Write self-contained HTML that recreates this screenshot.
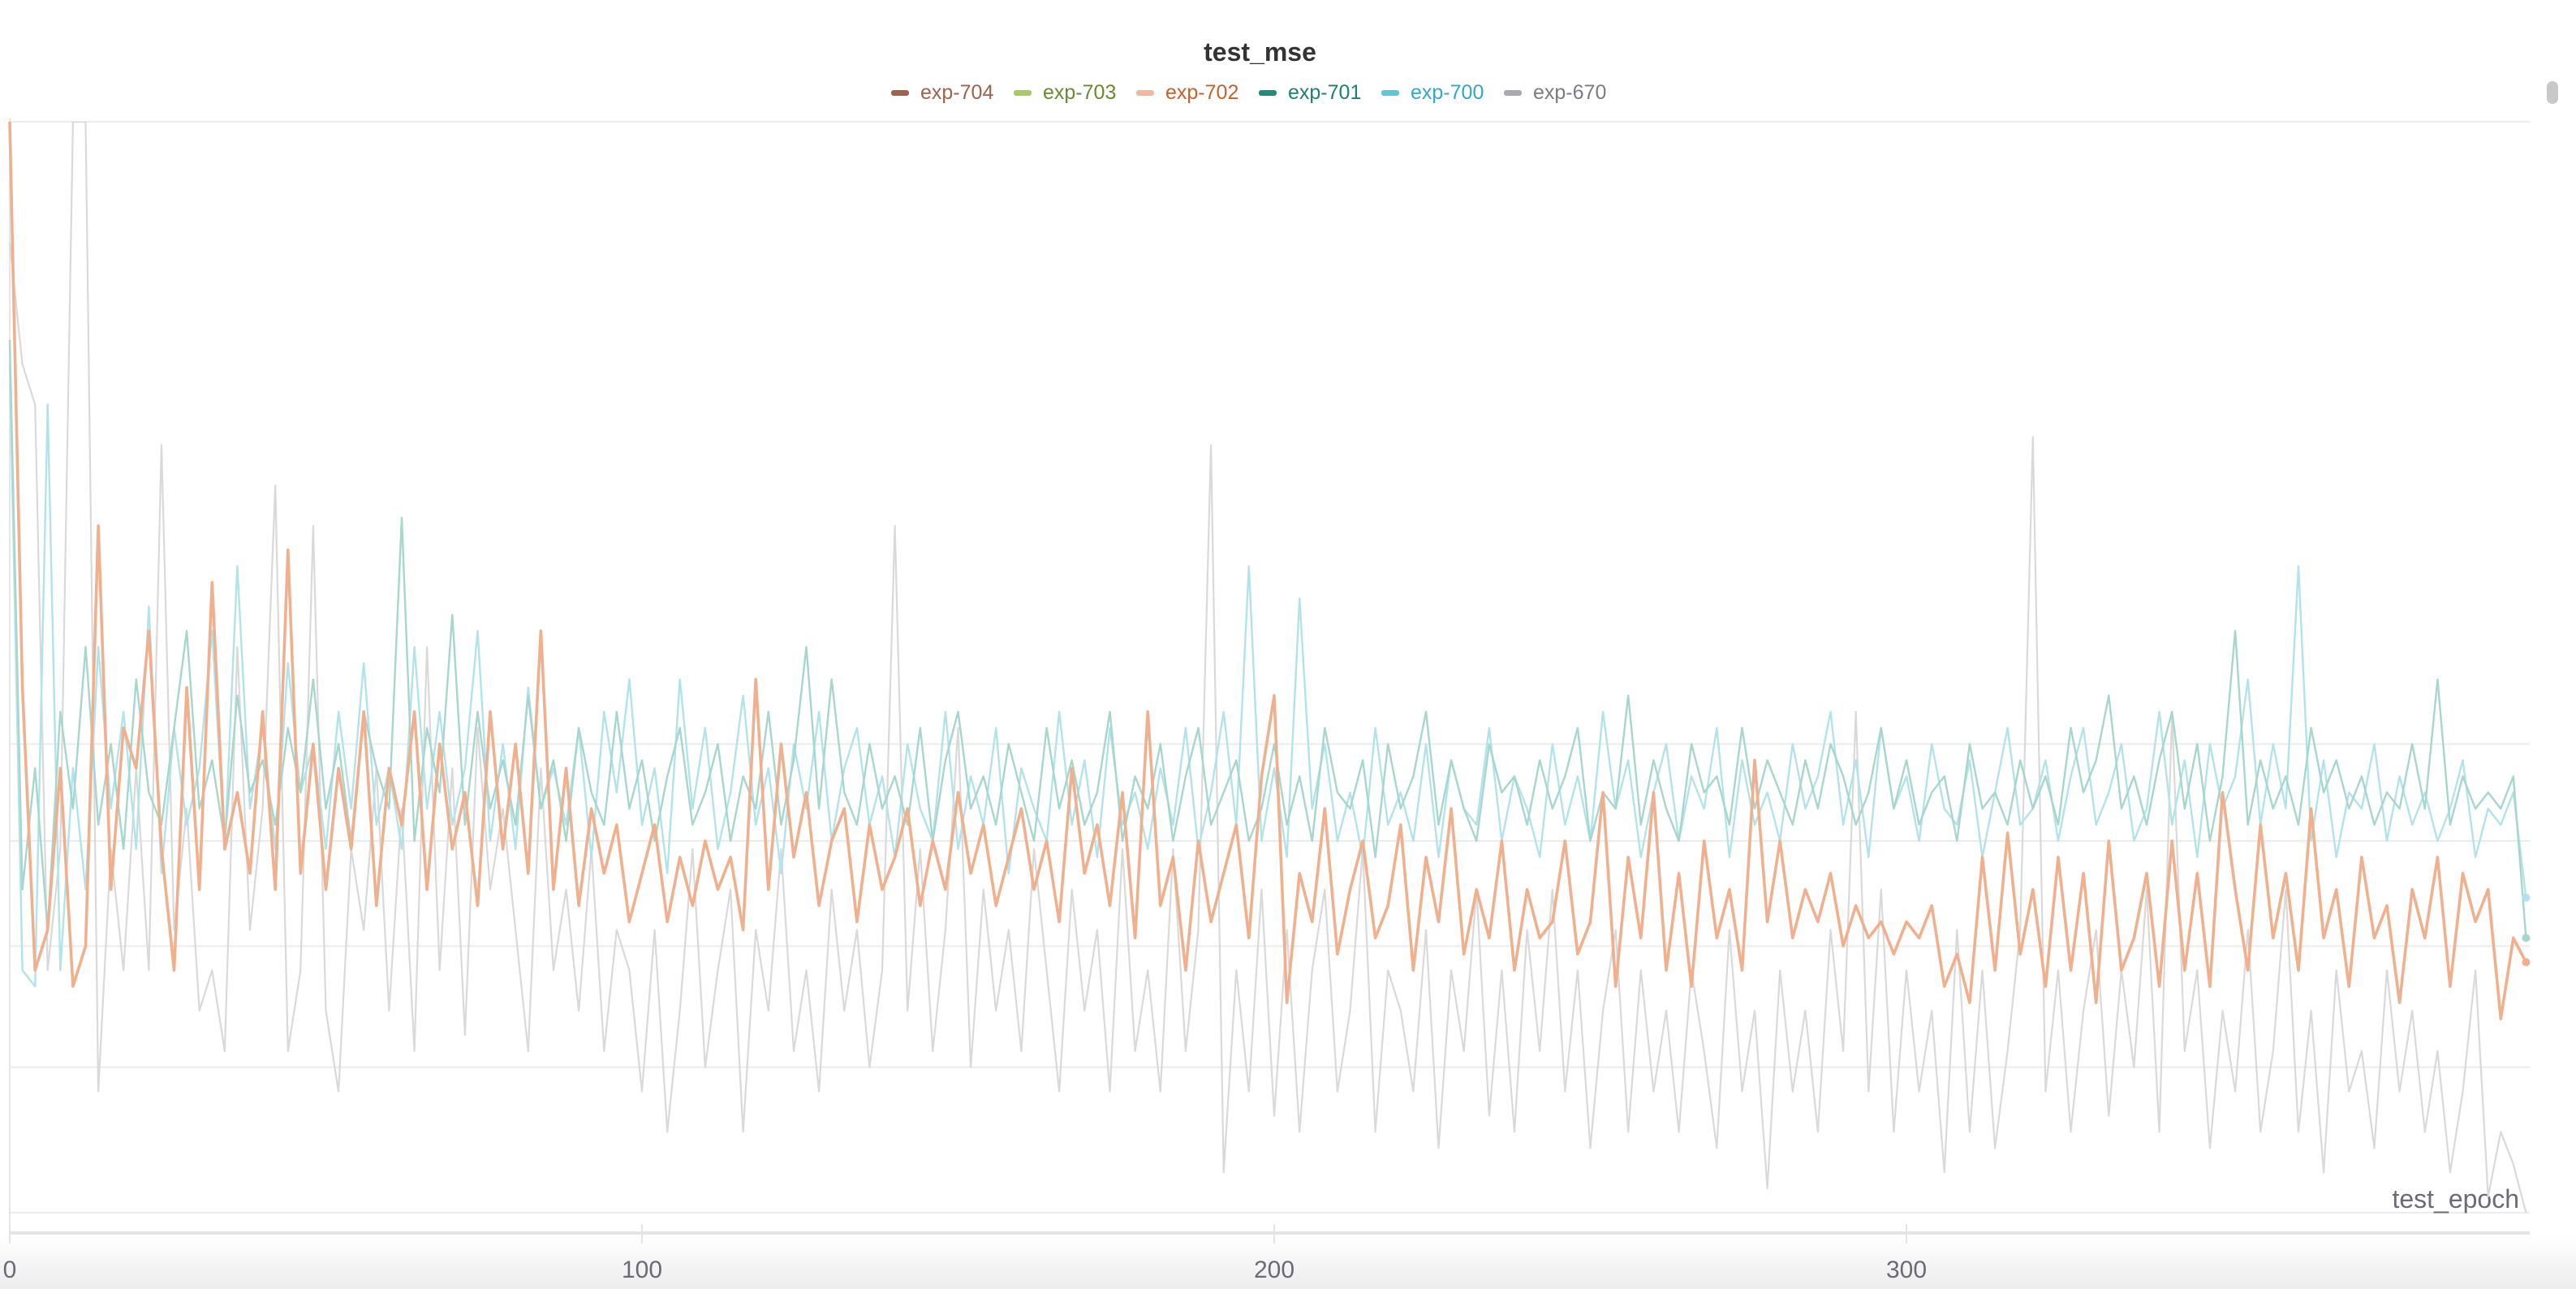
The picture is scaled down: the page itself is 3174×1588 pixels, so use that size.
<!DOCTYPE html>
<html><head><meta charset="utf-8">
<style>
html,body{margin:0;padding:0;background:#fff;}
body{width:3174px;height:1588px;position:relative;overflow:hidden;font-family:"Liberation Sans",sans-serif;}
#title{position:absolute;top:46px;left:0;width:3105px;text-align:center;font-size:32px;font-weight:bold;color:#333;}
#legend{position:absolute;top:100px;left:1098px;display:flex;font-size:25px;}
.le{display:flex;align-items:center;width:151px;}
.sw{width:22px;height:7px;border-radius:3px;margin-right:14px;}
#bottombg{position:absolute;left:0;top:1520px;width:3174px;height:68px;background:linear-gradient(#fff,#ededed);}
#scroll{position:absolute;left:3138px;top:100px;width:14px;height:28px;border-radius:7px;background:#c8c8c8;}
</style></head><body>
<div id="bottombg"></div>
<div id="title">test_mse</div>
<div id="legend">
 <div class="le"><div class="sw" style="background:#a0604a"></div><span style="color:#a0624a">exp-704</span></div>
 <div class="le"><div class="sw" style="background:#a8cc60"></div><span style="color:#6a8a30">exp-703</span></div>
 <div class="le"><div class="sw" style="background:#f3b89a"></div><span style="color:#c8602a">exp-702</span></div>
 <div class="le"><div class="sw" style="background:#1e8c7c"></div><span style="color:#1e8070">exp-701</span></div>
 <div class="le"><div class="sw" style="background:#5ac8dc"></div><span style="color:#30a8d0">exp-700</span></div>
 <div class="le"><div class="sw" style="background:#a8aab0"></div><span style="color:#7a7c84">exp-670</span></div>
</div>
<div id="scroll"></div>
<svg id="chart" width="3174" height="1588" style="position:absolute;left:0;top:0"></svg>
<script>
const xTicks=[0,100,200,300];
const gridValues=[1.35,0.58,0.46,0.33,0.18,0.0];
const epochStep=2;
const exp702=[1.35,0.65,0.30,0.35,0.55,0.28,0.33,0.85,0.40,0.60,
0.55,0.72,0.45,0.30,0.65,0.40,0.78,0.45,0.52,0.42,
0.62,0.40,0.82,0.42,0.58,0.40,0.55,0.45,0.62,0.38,
0.55,0.48,0.62,0.40,0.58,0.45,0.52,0.38,0.62,0.45,
0.58,0.42,0.72,0.40,0.55,0.38,0.50,0.42,0.48,0.36,
0.42,0.48,0.36,0.44,0.38,0.46,0.40,0.44,0.35,0.66,
0.40,0.58,0.44,0.52,0.38,0.46,0.50,0.36,0.48,0.40,
0.44,0.50,0.38,0.46,0.40,0.52,0.42,0.48,0.38,0.44,
0.50,0.40,0.46,0.36,0.55,0.42,0.48,0.38,0.52,0.34,
0.62,0.38,0.44,0.30,0.46,0.36,0.42,0.48,0.34,0.54,
0.64,0.26,0.42,0.36,0.50,0.32,0.40,0.46,0.34,0.38,
0.48,0.30,0.44,0.36,0.50,0.32,0.40,0.34,0.46,0.30,
0.40,0.34,0.36,0.46,0.32,0.36,0.52,0.28,0.44,0.34,
0.52,0.30,0.42,0.28,0.46,0.34,0.40,0.30,0.56,0.36,
0.46,0.34,0.40,0.36,0.42,0.33,0.38,0.34,0.36,0.32,
0.36,0.34,0.38,0.28,0.32,0.26,0.44,0.30,0.47,0.32,
0.40,0.28,0.44,0.30,0.42,0.26,0.46,0.30,0.34,0.42,
0.28,0.46,0.30,0.42,0.28,0.52,0.40,0.30,0.48,0.34,
0.42,0.30,0.50,0.34,0.40,0.28,0.44,0.34,0.38,0.26,
0.40,0.34,0.44,0.28,0.42,0.36,0.40,0.24,0.34,0.31];
const exp700=[1.05,0.30,0.28,1.00,0.30,0.55,0.40,0.70,0.50,0.62,
0.45,0.75,0.42,0.60,0.48,0.55,0.72,0.45,0.80,0.50,
0.60,0.45,0.68,0.52,0.58,0.45,0.62,0.50,0.68,0.48,
0.55,0.45,0.70,0.50,0.62,0.48,0.55,0.72,0.46,0.58,
0.45,0.65,0.50,0.55,0.48,0.60,0.44,0.62,0.52,0.66,
0.48,0.55,0.42,0.66,0.50,0.60,0.45,0.52,0.64,0.48,
0.55,0.42,0.58,0.50,0.62,0.46,0.55,0.60,0.48,0.54,
0.44,0.58,0.50,0.46,0.62,0.45,0.54,0.48,0.60,0.42,
0.55,0.50,0.46,0.62,0.48,0.56,0.44,0.60,0.48,0.52,
0.45,0.55,0.48,0.60,0.45,0.52,0.62,0.48,0.80,0.46,
0.55,0.44,0.76,0.50,0.58,0.46,0.52,0.44,0.60,0.48,
0.52,0.46,0.58,0.44,0.56,0.50,0.48,0.60,0.46,0.54,
0.50,0.44,0.58,0.48,0.54,0.46,0.62,0.50,0.56,0.44,
0.52,0.58,0.46,0.54,0.50,0.60,0.44,0.56,0.48,0.52,
0.46,0.58,0.50,0.54,0.62,0.48,0.56,0.44,0.60,0.50,
0.54,0.46,0.58,0.50,0.48,0.56,0.44,0.52,0.60,0.48,
0.50,0.56,0.46,0.54,0.60,0.48,0.52,0.58,0.46,0.50,
0.62,0.48,0.56,0.44,0.58,0.50,0.54,0.66,0.48,0.58,
0.50,0.80,0.46,0.56,0.44,0.52,0.50,0.58,0.46,0.54,
0.48,0.52,0.46,0.50,0.56,0.44,0.50,0.48,0.52,0.39];
const exp701=[1.08,0.40,0.55,0.35,0.62,0.50,0.70,0.48,0.58,0.45,
0.66,0.52,0.48,0.60,0.72,0.50,0.56,0.46,0.64,0.52,
0.56,0.48,0.60,0.52,0.66,0.50,0.58,0.46,0.62,0.55,
0.50,0.86,0.46,0.60,0.52,0.74,0.48,0.62,0.50,0.56,
0.48,0.64,0.50,0.56,0.46,0.60,0.52,0.48,0.62,0.50,
0.56,0.46,0.54,0.60,0.48,0.52,0.58,0.46,0.54,0.50,
0.62,0.48,0.56,0.70,0.50,0.66,0.52,0.48,0.58,0.50,
0.54,0.48,0.60,0.46,0.56,0.62,0.50,0.54,0.48,0.58,
0.52,0.46,0.60,0.50,0.56,0.48,0.52,0.62,0.46,0.54,
0.50,0.58,0.46,0.54,0.60,0.48,0.52,0.56,0.46,0.50,
0.58,0.48,0.54,0.46,0.60,0.52,0.50,0.56,0.44,0.58,
0.50,0.54,0.62,0.48,0.56,0.50,0.46,0.58,0.52,0.54,
0.48,0.56,0.50,0.54,0.60,0.46,0.52,0.50,0.64,0.48,
0.56,0.50,0.46,0.58,0.52,0.54,0.48,0.60,0.50,0.56,
0.52,0.48,0.56,0.50,0.58,0.54,0.48,0.52,0.60,0.50,
0.56,0.48,0.52,0.54,0.46,0.58,0.50,0.52,0.48,0.56,
0.50,0.54,0.48,0.60,0.52,0.56,0.64,0.50,0.54,0.48,
0.56,0.62,0.50,0.58,0.46,0.54,0.72,0.48,0.56,0.50,
0.54,0.48,0.60,0.52,0.56,0.50,0.54,0.48,0.52,0.50,
0.58,0.50,0.66,0.48,0.54,0.50,0.52,0.50,0.54,0.34];
const exp670=[1.20,1.05,1.00,0.30,0.45,1.35,1.35,0.15,0.45,0.30,
0.55,0.30,0.95,0.35,0.50,0.25,0.30,0.20,0.70,0.35,
0.50,0.90,0.20,0.30,0.85,0.25,0.15,0.45,0.35,0.55,
0.25,0.50,0.20,0.70,0.30,0.55,0.22,0.60,0.40,0.50,
0.35,0.20,0.55,0.30,0.40,0.25,0.45,0.20,0.35,0.30,
0.15,0.35,0.10,0.25,0.45,0.18,0.30,0.40,0.10,0.35,
0.25,0.45,0.20,0.30,0.15,0.40,0.25,0.35,0.18,0.30,
0.85,0.25,0.45,0.20,0.35,0.60,0.18,0.40,0.25,0.35,
0.20,0.45,0.30,0.15,0.40,0.25,0.35,0.15,0.45,0.20,
0.30,0.15,0.45,0.20,0.35,0.95,0.05,0.30,0.15,0.40,
0.12,0.35,0.10,0.30,0.40,0.15,0.25,0.45,0.10,0.30,
0.25,0.15,0.35,0.08,0.30,0.20,0.40,0.12,0.30,0.10,
0.35,0.20,0.40,0.15,0.30,0.08,0.25,0.35,0.10,0.30,
0.15,0.25,0.10,0.30,0.20,0.08,0.35,0.15,0.25,0.03,
0.30,0.15,0.25,0.10,0.35,0.20,0.62,0.15,0.40,0.10,
0.30,0.15,0.25,0.05,0.35,0.10,0.30,0.08,0.20,0.35,
0.96,0.15,0.30,0.10,0.25,0.35,0.12,0.30,0.18,0.40,
0.10,0.62,0.20,0.30,0.08,0.25,0.15,0.35,0.10,0.20,
0.40,0.10,0.25,0.05,0.30,0.15,0.20,0.08,0.30,0.15,
0.25,0.10,0.20,0.05,0.15,0.30,0.02,0.10,0.06,0.00];

const X0=12, XPER=7.79, YBASE=1494, YTOP=150, XEND=3117;
const yMax=1.35;
function xs(e){return X0+e*XPER;}
function ys(v){return YBASE-(v/yMax)*(YBASE-YTOP);}
const NS="http://www.w3.org/2000/svg";
const svg=document.getElementById('chart');
function mk(t,a){const el=document.createElementNS(NS,t);for(const k in a)el.setAttribute(k,a[k]);svg.appendChild(el);return el;}
const defs=mk('defs',{});
const cp=document.createElementNS(NS,'clipPath');cp.setAttribute('id','pc');
const cr=document.createElementNS(NS,'rect');cr.setAttribute('x',0);cr.setAttribute('y',YTOP);cr.setAttribute('width',XEND+10);cr.setAttribute('height',YBASE-YTOP+30);
cp.appendChild(cr);defs.appendChild(cp);
gridValues.forEach(v=>{
 const g=mk('line',{x1:X0,x2:XEND,y1:ys(v),y2:ys(v),stroke:'#ececec','stroke-width':2});
 
 
});
const ya=mk('line',{x1:X0,x2:X0,y1:YTOP-4,y2:1520,stroke:'#e6e6e6','stroke-width':2});


const xa=mk('line',{x1:X0,x2:XEND,y1:1519,y2:1519,stroke:'#e4e4e4','stroke-width':4});


xTicks.forEach(t=>{
 const tk=mk('line',{x1:xs(t),x2:xs(t),y1:1508,y2:1532,stroke:'#e4e4e4','stroke-width':2});
 
 
 const tx=mk('text',{x:xs(t),y:1574,'font-size':30,fill:'#6b6b78','text-anchor':'middle','font-family':'Liberation Sans, sans-serif'});
 tx.textContent=String(t);
 
 
});
const xt=mk('text',{x:3104,y:1488,'font-size':32,fill:'#6b6b78','text-anchor':'end','font-family':'Liberation Sans, sans-serif'});
xt.textContent='test_epoch';


const g=mk('g',{'clip-path':'url(#pc)'});
function series(arr,color,w,name,dot){
 let d='';
 arr.forEach((v,i)=>{const e=Math.min(i*epochStep,398);d+=(i?'L':'M')+xs(e).toFixed(1)+' '+ys(v).toFixed(1);});
 const p=document.createElementNS(NS,'path');
 p.setAttribute('d',d);p.setAttribute('fill','none');p.setAttribute('stroke',color);
 p.setAttribute('stroke-width',w);p.setAttribute('stroke-linejoin','round');
 
 
 g.appendChild(p);
 if(dot){const last=arr.length-1;
  const c=mk('circle',{cx:xs(Math.min(last*epochStep,398)),cy:ys(arr[last]),r:5,fill:color});
  
  }
}
series(exp670,'#d9d9d9',2.2,'line-exp-670',false);
series(exp700,'#b2e3ea',2.4,'line-exp-700',true);
series(exp701,'#a6d6cc',2.4,'line-exp-701',true);
series(exp702,'#f0b08e',3.6,'line-exp-702',true);
</script>
</body></html>
